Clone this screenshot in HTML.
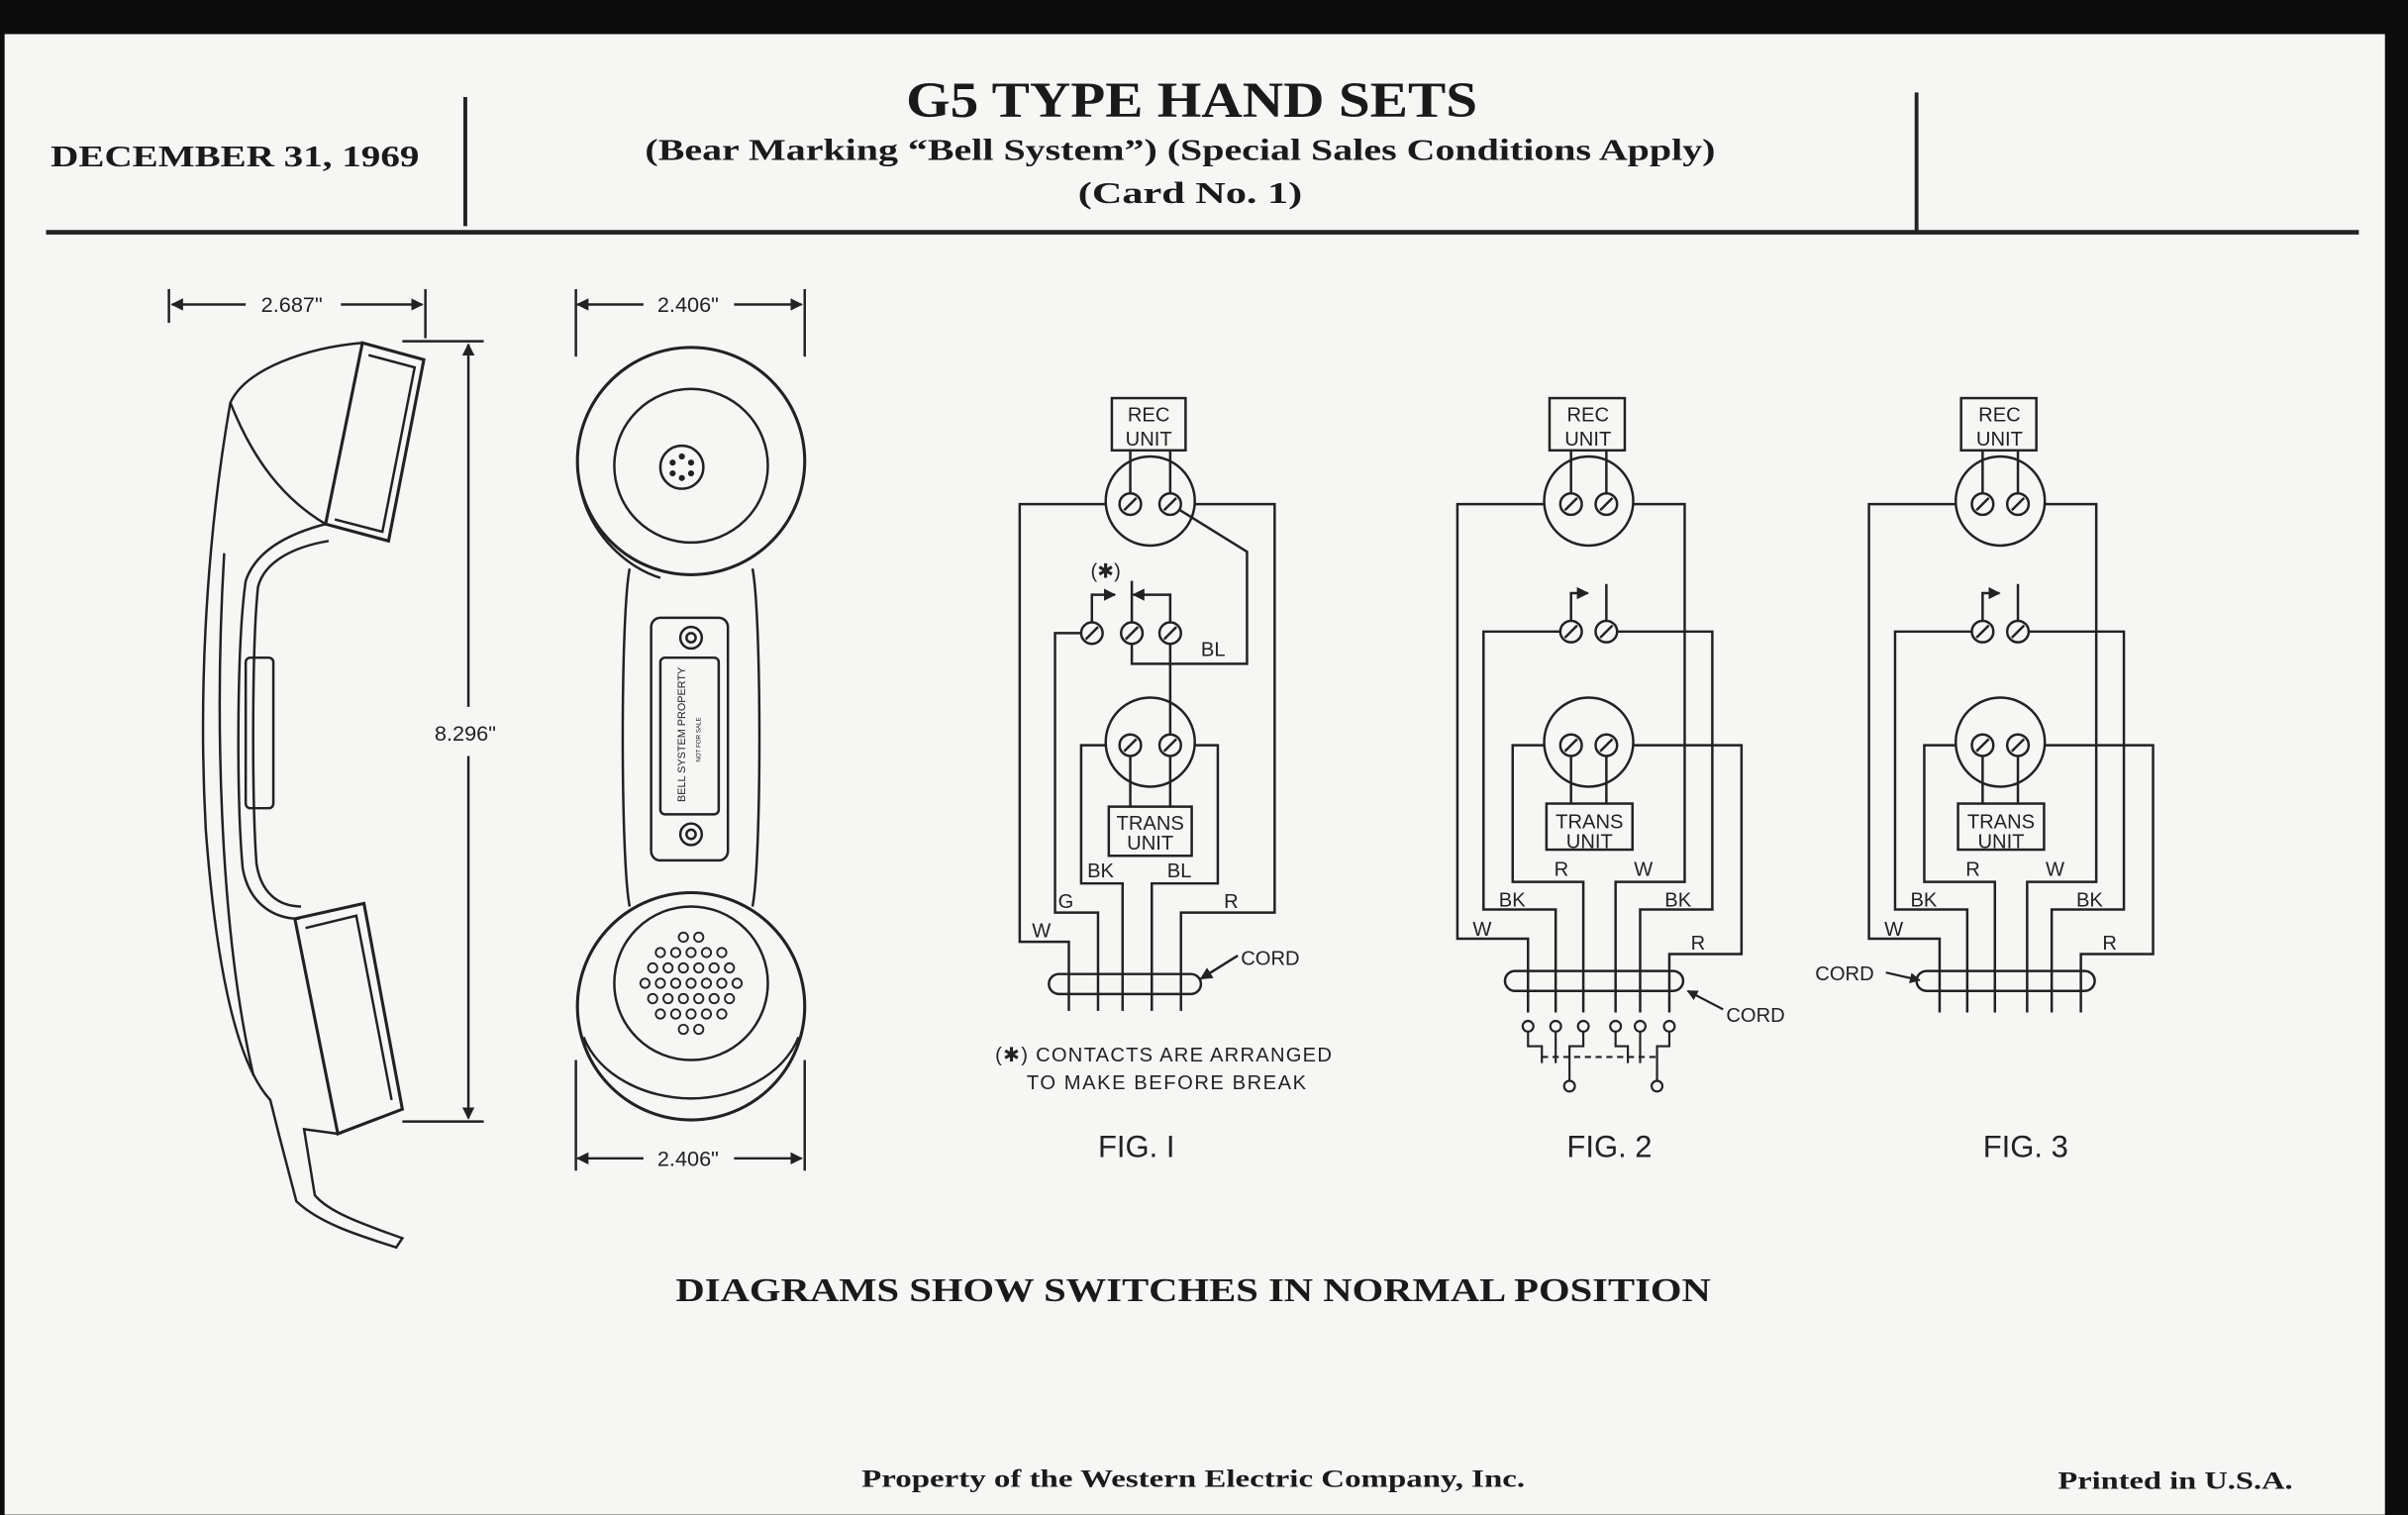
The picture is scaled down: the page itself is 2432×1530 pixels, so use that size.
<!DOCTYPE html>
<html><head><meta charset="utf-8"><style>
html,body{margin:0;padding:0;background:#111;}
svg{display:block;}
.s{font-family:"Liberation Sans",sans-serif;font-size:13px;fill:#222;}
.sb{font-family:"Liberation Serif",serif;font-weight:bold;fill:#1a1a1a;}
</style></head><body>
<svg width="2432" height="1530" viewBox="0 0 1568 986" xmlns="http://www.w3.org/2000/svg">
<defs>
<marker id="ar" viewBox="0 0 10 10" refX="9" refY="5" markerWidth="5" markerHeight="5" orient="auto"><path d="M0,0 L10,5 L0,10z" fill="#222"/></marker>
<g id="scr"><circle r="7" fill="#f6f6f4" stroke="#222" stroke-width="1.6"/><line x1="-4" y1="4" x2="4" y2="-4" stroke="#222" stroke-width="1.6"/></g>
</defs>
<rect x="0" y="0" width="1568" height="986" fill="#0c0c0c"/>
<rect x="3" y="22" width="1550" height="964" fill="#f6f6f4"/>

<!-- header -->
<text class="sb" x="590" y="76" font-size="33" textLength="372" lengthAdjust="spacingAndGlyphs">G5 TYPE HAND SETS</text>
<text class="sb" x="420" y="104" font-size="20" textLength="697" lengthAdjust="spacingAndGlyphs">(Bear Marking “Bell System”) (Special Sales Conditions Apply)</text>
<text class="sb" x="702" y="132" font-size="20" textLength="146" lengthAdjust="spacingAndGlyphs">(Card No. 1)</text>
<text class="sb" x="33" y="108" font-size="20" textLength="240" lengthAdjust="spacingAndGlyphs">DECEMBER 31, 1969</text>
<line x1="303" y1="63" x2="303" y2="147" stroke="#222" stroke-width="2.5"/>
<line x1="1248" y1="60" x2="1248" y2="150" stroke="#222" stroke-width="2.5"/>
<line x1="30" y1="151" x2="1536" y2="151" stroke="#222" stroke-width="3"/>

<g fill="none" stroke="#222" stroke-width="1.6">
<line x1="110" y1="188" x2="110" y2="210"/><line x1="277" y1="188" x2="277" y2="220"/>
<line x1="112" y1="198" x2="160" y2="198" marker-end="url(#ar)" transform="rotate(180 136 198)"/>
<line x1="222" y1="198" x2="275" y2="198" marker-end="url(#ar)"/>
<line x1="262" y1="222" x2="315" y2="222"/><line x1="262" y1="730" x2="315" y2="730"/>
<line x1="305" y1="460" x2="305" y2="224" marker-end="url(#ar)"/>
<line x1="305" y1="492" x2="305" y2="728" marker-end="url(#ar)"/>
<path d="M236,223 L276,234 L253,352 L212,341 Z" stroke-width="2"/>
<path d="M240,231 L270,239 L249,346 L218,338"/>
<path d="M236,223 C200,226 160,240 150,262 C138,330 128,430 134,540 C140,620 152,690 176,716 L182,740 L193,782 C210,798 240,806 258,812 L262,806 C240,798 215,790 205,778 L198,735 L220,738"/>
<path d="M212,341 C185,348 166,360 160,378 C154,420 154,520 158,565 C162,588 178,598 195,598"/>
<path d="M214,352 C190,356 172,366 168,382 C164,420 164,520 167,562 C170,582 182,590 196,590"/>
<path d="M150,262 C165,300 185,325 212,341"/>
<path d="M192,598 L237,588 L262,722 L220,738 Z" stroke-width="2"/>
<path d="M199,604 L232,596 L255,716"/>
<rect x="160" y="428" width="18" height="98" rx="3"/>
<path d="M146,360 C140,460 142,600 165,700"/>

<line x1="375" y1="188" x2="375" y2="232"/><line x1="524" y1="188" x2="524" y2="232"/>
<line x1="377" y1="198" x2="420" y2="198" marker-end="url(#ar)" transform="rotate(180 398 198)"/>
<line x1="478" y1="198" x2="522" y2="198" marker-end="url(#ar)"/>
<line x1="375" y1="690" x2="375" y2="762"/><line x1="524" y1="690" x2="524" y2="762"/>
<line x1="377" y1="754" x2="420" y2="754" marker-end="url(#ar)" transform="rotate(180 398 754)"/>
<line x1="478" y1="754" x2="522" y2="754" marker-end="url(#ar)"/>
<circle cx="450" cy="300" r="74" stroke-width="2"/>
<path d="M378,318 C385,350 410,370 430,376" />
<circle cx="450" cy="303" r="50"/>
<circle cx="444" cy="304" r="14"/>
<g fill="#222" stroke="none"><circle cx="444" cy="297" r="2"/><circle cx="450" cy="301" r="2"/><circle cx="450" cy="308" r="2"/><circle cx="444" cy="311" r="2"/><circle cx="438" cy="301" r="2"/><circle cx="438" cy="308" r="2"/></g>
<path d="M410,370 C404,400 404,560 410,590"/><path d="M490,370 C496,400 496,560 490,590"/>
<circle cx="450" cy="655" r="74" stroke-width="2"/>
<circle cx="450" cy="640" r="50"/>
<path d="M380,675 C390,700 420,715 450,715 C480,715 510,700 520,675"/>
<rect x="424" y="402" width="50" height="158" rx="6"/>
<rect x="430" y="428" width="38" height="102" rx="3"/>
<circle cx="450" cy="415" r="7"/><circle cx="450" cy="415" r="3"/>
<circle cx="450" cy="543" r="7"/><circle cx="450" cy="543" r="3"/>
</g>
<g fill="none" stroke="#222" stroke-width="1.2">
<circle cx="450" cy="640" r="3"/><circle cx="440" cy="640" r="3"/><circle cx="460" cy="640" r="3"/><circle cx="430" cy="640" r="3"/><circle cx="470" cy="640" r="3"/><circle cx="420" cy="640" r="3"/><circle cx="480" cy="640" r="3"/>
<circle cx="445" cy="630" r="3"/><circle cx="455" cy="630" r="3"/><circle cx="435" cy="630" r="3"/><circle cx="465" cy="630" r="3"/><circle cx="425" cy="630" r="3"/><circle cx="475" cy="630" r="3"/>
<circle cx="445" cy="650" r="3"/><circle cx="455" cy="650" r="3"/><circle cx="435" cy="650" r="3"/><circle cx="465" cy="650" r="3"/><circle cx="425" cy="650" r="3"/><circle cx="475" cy="650" r="3"/>
<circle cx="450" cy="620" r="3"/><circle cx="440" cy="620" r="3"/><circle cx="460" cy="620" r="3"/><circle cx="430" cy="620" r="3"/><circle cx="470" cy="620" r="3"/>
<circle cx="450" cy="660" r="3"/><circle cx="440" cy="660" r="3"/><circle cx="460" cy="660" r="3"/><circle cx="430" cy="660" r="3"/><circle cx="470" cy="660" r="3"/>
<circle cx="445" cy="610" r="3"/><circle cx="455" cy="610" r="3"/><circle cx="445" cy="670" r="3"/><circle cx="455" cy="670" r="3"/>
</g>
<text class="s" style="font-size:7px" x="0" y="0" transform="translate(446,522) rotate(-90)">BELL SYSTEM PROPERTY</text>
<text class="s" style="font-size:4px" x="0" y="0" transform="translate(456,496) rotate(-90)">NOT FOR SALE</text>
<text class="s" x="190" y="203" style="font-size:14px" text-anchor="middle">2.687"</text>
<text class="s" x="303" y="482" style="font-size:14px" text-anchor="middle">8.296"</text>
<text class="s" x="448" y="203" style="font-size:14px" text-anchor="middle">2.406"</text>
<text class="s" x="448" y="759" style="font-size:14px" text-anchor="middle">2.406"</text>

<!-- FIG 1 -->
<g fill="none" stroke="#222" stroke-width="1.6">
<rect x="724" y="259" width="48" height="34"/>
<line x1="736" y1="293" x2="736" y2="328"/><line x1="762" y1="293" x2="762" y2="328"/>
<circle cx="749" cy="326" r="29"/>
<path d="M720,328 L664,328 L664,613 L696,613 L696,658"/>
<path d="M778,328 L830,328 L830,594 L769,594 L769,658"/>
<path d="M762,328 L812,359 L812,432 L737,432 L737,412"/>
<path d="M704,412 L687,412 L687,594 L715,594 L715,658"/>
<path d="M711,405 L711,387 L726,387" marker-end="url(#ar)"/>
<line x1="737" y1="405" x2="737" y2="378"/>
<path d="M762,405 L762,387 L738,387" marker-end="url(#ar)"/>
<line x1="762" y1="412" x2="762" y2="485"/>
<circle cx="749" cy="483" r="29"/>
<path d="M720,485 L704,485 L704,575 L731,575 L731,658"/>
<path d="M778,485 L793,485 L793,575 L750,575 L750,658"/>
<line x1="736" y1="485" x2="736" y2="525"/><line x1="762" y1="485" x2="762" y2="525"/>
<rect x="722" y="525" width="54" height="32" fill="#f6f6f4"/>
<rect x="683" y="634" width="99" height="13" rx="6.5"/>
<line x1="806" y1="622" x2="782" y2="637" marker-end="url(#ar)"/>
</g>
<use href="#scr" x="736" y="328"/><use href="#scr" x="762" y="328"/>
<use href="#scr" x="711" y="412"/><use href="#scr" x="737" y="412"/><use href="#scr" x="762" y="412"/>
<use href="#scr" x="736" y="485"/><use href="#scr" x="762" y="485"/>
<g class="s">
<text x="748" y="274" text-anchor="middle">REC</text><text x="748" y="290" text-anchor="middle">UNIT</text>
<text x="749" y="540" text-anchor="middle">TRANS</text><text x="749" y="553" text-anchor="middle">UNIT</text>
<text x="720" y="376" text-anchor="middle">(✱)</text>
<text x="782" y="427">BL</text><text x="708" y="571">BK</text><text x="760" y="571">BL</text>
<text x="689" y="591">G</text><text x="797" y="591">R</text><text x="672" y="610">W</text>
<text x="808" y="628">CORD</text>
<text x="758" y="691" text-anchor="middle" letter-spacing="0.8">(✱) CONTACTS ARE ARRANGED</text>
<text x="760" y="709" text-anchor="middle" letter-spacing="1">TO MAKE BEFORE BREAK</text>
<text x="740" y="753" text-anchor="middle" style="font-size:20px">FIG. I</text>
<text x="1048" y="753" text-anchor="middle" style="font-size:20px">FIG. 2</text>
<text x="1319" y="753" text-anchor="middle" style="font-size:20px">FIG. 3</text>
</g>

<!-- FIG 2 & 3 -->
<g id="f2">
<g fill="none" stroke="#222" stroke-width="1.6">
<rect x="1009" y="259" width="49" height="34"/>
<line x1="1023" y1="293" x2="1023" y2="328"/><line x1="1046" y1="293" x2="1046" y2="328"/>
<circle cx="1034.5" cy="326" r="29"/>
<path d="M1005,328 L949,328 L949,611 L995,611 L995,659"/>
<path d="M1064,328 L1097,328 L1097,574 L1052,574 L1052,659"/>
<path d="M1016,411 L966,411 L966,592 L1013,592 L1013,659"/>
<path d="M1053,411 L1115,411 L1115,592 L1068,592 L1068,659"/>
<path d="M1023,404 L1023,386 L1034,386" marker-end="url(#ar)"/>
<line x1="1046" y1="404" x2="1046" y2="380"/>
<circle cx="1034.5" cy="483" r="29"/>
<path d="M1005,485 L985,485 L985,574 L1031,574 L1031,659"/>
<path d="M1064,485 L1134,485 L1134,621 L1087,621 L1087,659"/>
<line x1="1023" y1="485" x2="1023" y2="523"/><line x1="1046" y1="485" x2="1046" y2="523"/>
<rect x="1007" y="523" width="56" height="30" fill="#f6f6f4"/>
<rect x="980" y="632" width="116" height="13" rx="6.5"/>
</g>
<use href="#scr" x="1023" y="328"/><use href="#scr" x="1046" y="328"/>
<use href="#scr" x="1023" y="411"/><use href="#scr" x="1046" y="411"/>
<use href="#scr" x="1023" y="485"/><use href="#scr" x="1046" y="485"/>
<g class="s">
<text x="1034" y="274" text-anchor="middle">REC</text><text x="1034" y="290" text-anchor="middle">UNIT</text>
<text x="1035" y="539" text-anchor="middle">TRANS</text><text x="1035" y="552" text-anchor="middle">UNIT</text>
<text x="1012" y="570">R</text><text x="1064" y="570">W</text>
<text x="976" y="590">BK</text><text x="1084" y="590">BK</text>
<text x="959" y="609">W</text><text x="1101" y="618">R</text>
</g>
</g>
<use href="#f2" x="268" y="0"/>
<g fill="none" stroke="#222" stroke-width="1.4">
<circle cx="995" cy="668" r="3.5"/><circle cx="1013" cy="668" r="3.5"/><circle cx="1031" cy="668" r="3.5"/>
<circle cx="1052" cy="668" r="3.5"/><circle cx="1068" cy="668" r="3.5"/><circle cx="1087" cy="668" r="3.5"/>
<path d="M995,672 L995,681 L1004,681 L1004,692"/><path d="M1013,672 L1013,692"/><path d="M1031,672 L1031,681 L1022,681 L1022,703"/>
<path d="M1052,672 L1052,681 L1060,681 L1060,692"/><path d="M1068,672 L1068,692"/><path d="M1087,672 L1087,681 L1079,681 L1079,703"/>
<line x1="1004" y1="688" x2="1079" y2="688" stroke-dasharray="4,3"/>
<circle cx="1022" cy="707" r="3.5"/><circle cx="1079" cy="707" r="3.5"/>
<line x1="1122" y1="657" x2="1099" y2="645" marker-end="url(#ar)"/>
<line x1="1228" y1="633" x2="1250" y2="638" marker-end="url(#ar)"/>
</g>
<text class="s" x="1124" y="665">CORD</text>
<text class="s" x="1182" y="638">CORD</text>

<text class="sb" x="440" y="847" font-size="22" textLength="674" lengthAdjust="spacingAndGlyphs">DIAGRAMS SHOW SWITCHES IN NORMAL POSITION</text>
<text class="sb" x="561" y="968" font-size="16" textLength="432" lengthAdjust="spacingAndGlyphs">Property of the Western Electric Company, Inc.</text>
<text class="sb" x="1340" y="969" font-size="16" textLength="153" lengthAdjust="spacingAndGlyphs">Printed in U.S.A.</text>
</svg>
</body></html>
